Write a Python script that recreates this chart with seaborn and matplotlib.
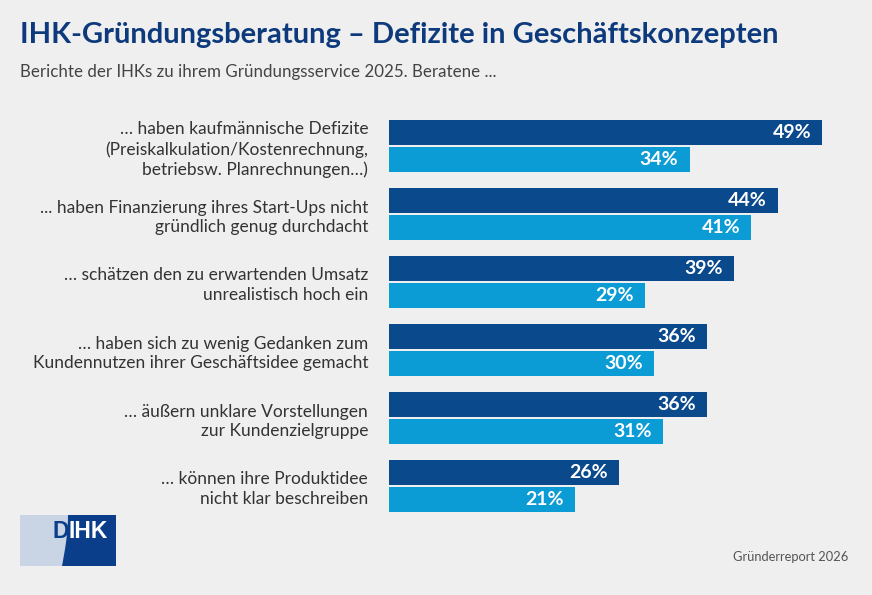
import numpy as np
import pandas as pd
import matplotlib
matplotlib.use("Agg")
import matplotlib.pyplot as plt
import seaborn as sns

categories = [
    "… haben kaufmännische Defizite\n(Preiskalkulation/Kostenrechnung,\nbetriebsw. Planrechnungen…)",
    "... haben Finanzierung ihres Start-Ups nicht\ngründlich genug durchdacht",
    "… schätzen den zu erwartenden Umsatz\nunrealistisch hoch ein",
    "… haben sich zu wenig Gedanken zum\nKundennutzen ihrer Geschäftsidee gemacht",
    "… äußern unklare Vorstellungen\nzur Kundenzielgruppe",
    "… können ihre Produktidee\nnicht klar beschreiben",
]
series = ["aktuell", "Vorjahr"]
values_dark = [49, 44, 39, 36, 36, 26]
values_light = [34, 41, 29, 30, 31, 21]

BG = "#efefef"
DARK = "#0a4a8c"
LIGHT = "#0b9bd5"
NAVY = "#0d3a7c"

df = pd.DataFrame({
    "Aussage": categories * 2,
    "Reihe": [series[0]] * len(categories) + [series[1]] * len(categories),
    "Anteil": values_dark + values_light,
})

sns.set_theme(style="white")
plt.rcParams["font.family"] = ["Lato", "DejaVu Sans"]

fig = plt.figure(figsize=(8.72, 5.95), dpi=100, facecolor=BG)
ax = fig.add_axes([389 / 872, 1 - 520 / 595, 442 / 872, 408 / 595])
ax.set_facecolor(BG)

sns.barplot(data=df, y="Aussage", x="Anteil", hue="Reihe", orient="h",
            palette=[DARK, LIGHT], width=0.8, gap=0.1, saturation=1,
            linewidth=0, legend=False, ax=ax)

ax.set_xlim(0, 50)
ax.set_ylim(5.5, -0.5)
ax.set_xlabel("")
ax.set_ylabel("")
ax.set_xticks([])
sns.despine(ax=ax, left=True, bottom=True)
ax.tick_params(axis="y", length=0, pad=15, labelsize=12.5, colors="#333333")
for lab in ax.get_yticklabels():
    lab.set_linespacing(1.3)
    lab.set_horizontalalignment("right")

for cont in ax.containers:
    anns = ax.bar_label(cont, fmt="%d%%", padding=-8, color="white",
                        fontsize=14, fontweight="bold")
    for a in anns:
        a.set_ha("right")

fig.text(20 / 872, 1 - 35 / 595, "IHK-Gründungsberatung – Defizite in Geschäftskonzepten",
         fontsize=21, fontweight="bold", color=NAVY, va="center", ha="left")
fig.text(20 / 872, 1 - 72 / 595, "Berichte der IHKs zu ihrem Gründungsservice 2025. Beratene ...",
         fontsize=12.2, color="#444444", va="center", ha="left")
fig.text(848 / 872, 1 - 557 / 595, "Gründerreport 2026",
         fontsize=9.3, color="#555555", va="center", ha="right")

# logo
lax = fig.add_axes([20 / 872, 1 - 566 / 595, 96 / 872, 51 / 595])
lax.set_xlim(0, 96)
lax.set_ylim(0, 51)
lax.axis("off")
lax.add_patch(plt.Rectangle((0, 0), 96, 51, color="#c9d5e5", lw=0))
yy = np.linspace(0, 51, 30)
xx = 42 + 6 * np.sin(yy / 51 * np.pi / 2)
poly_x = np.concatenate([xx, [96, 96]])
poly_y = np.concatenate([yy, [51, 0]])
lax.fill(poly_x, poly_y, color="#0a3d8a", lw=0)
lax.text(48.5, 35, "D", ha="right", va="center", fontsize=16.5, fontweight="bold",
         color="#0a3d8a", family="Liberation Sans")
lax.text(48.5, 35, "IHK", ha="left", va="center", fontsize=16.5, fontweight="bold",
         color="white", family="Liberation Sans")

fig.savefig("out.png", dpi=100, facecolor=BG)
